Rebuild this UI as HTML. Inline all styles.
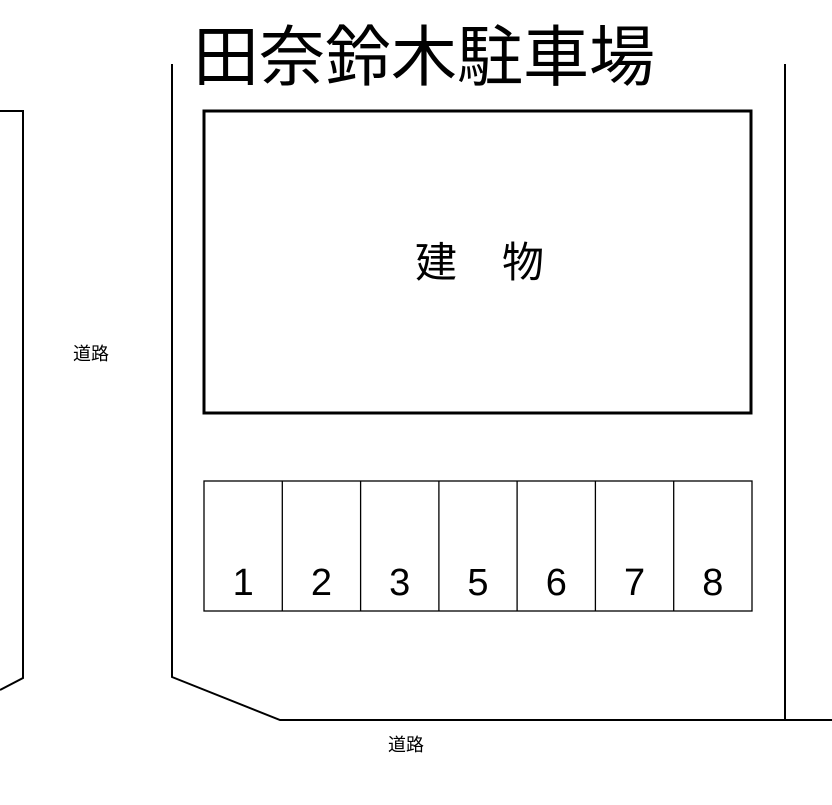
<!DOCTYPE html>
<html><head><meta charset="utf-8"><style>
body{margin:0;width:832px;height:805px;background:#fff;overflow:hidden;position:relative;font-family:"Liberation Sans","Noto Sans CJK JP",sans-serif}
.t{position:absolute;white-space:nowrap;line-height:1;color:#000}
</style></head><body>
<svg width="832" height="805" style="position:absolute;left:0;top:0">
<g fill="none" stroke="#000" stroke-width="2">
<polyline points="0,111 23,111 23,678 0,690"/>
<polyline points="172,64 172,677 280,720 832,720"/>
<line x1="785" y1="64" x2="785" y2="720"/>
<rect x="204" y="111" width="547" height="302" stroke-width="3"/>
<rect x="204" y="481" width="548" height="130" stroke-width="1.3"/>
<path d="M282.3 481V611M360.6 481V611M438.9 481V611M517.1 481V611M595.4 481V611M673.7 481V611" stroke-width="1.3"/>
</g>
</svg>
<div class="t" style="left:193px;top:24px;font-size:66px">田奈鈴木駐車場</div>
<div class="t" style="left:415px;top:242px;font-size:42px">建</div>
<div class="t" style="left:502px;top:242px;font-size:42px">物</div>
<div class="t" style="left:73px;top:345px;font-size:18px">道路</div>
<div class="t" style="left:388px;top:736px;font-size:18px">道路</div>
<div class="t" style="left:204px;top:564px;font-size:38px;width:548px;display:flex">
<span style="flex:1;text-align:center">1</span><span style="flex:1;text-align:center">2</span><span style="flex:1;text-align:center">3</span><span style="flex:1;text-align:center">5</span><span style="flex:1;text-align:center">6</span><span style="flex:1;text-align:center">7</span><span style="flex:1;text-align:center">8</span>
</div>
</body></html>
